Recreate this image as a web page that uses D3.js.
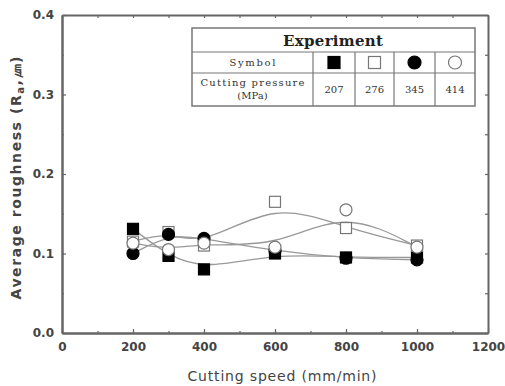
<!DOCTYPE html>
<html>
<head>
<meta charset="utf-8">
<script src="https://cdn.jsdelivr.net/npm/d3@7"></script>
<style>
  body { margin: 0; background: #fff; }
  svg { display: block; }
</style>
</head>
<body>
<svg id="chart" width="505" height="386"></svg>
<script>
// cutting speed (mm/min)
const speeds = [200, 300, 400, 600, 800, 1000];
// average roughness Ra per cutting pressure
const ra207 = [0.131, 0.097, 0.080, 0.100, 0.095, 0.095];
const ra276 = [0.115, 0.127, 0.110, 0.165, 0.132, 0.110];
const ra345 = [0.100, 0.124, 0.119, 0.103, 0.094, 0.092];
const ra414 = [0.113, 0.105, 0.113, 0.108, 0.155, 0.108];
const pressures = ['207', '276', '345', '414'];
const xTicks = [0, 200, 400, 600, 800, 1000, 1200];
const yTicks = [0.0, 0.1, 0.2, 0.3, 0.4];

const series = [
  { p: pressures[0], vals: ra207, shape: 'square', fill: '#000' },
  { p: pressures[1], vals: ra276, shape: 'square', fill: '#fff' },
  { p: pressures[2], vals: ra345, shape: 'circle', fill: '#000' },
  { p: pressures[3], vals: ra414, shape: 'circle', fill: '#fff' }
];

const margin = {top: 15, right: 17, bottom: 53, left: 62};
const W = 505, H = 386;
const iw = W - margin.left - margin.right;
const ih = H - margin.top - margin.bottom;

const svg = d3.select('#chart');
const g = svg.append('g').attr('transform', `translate(${margin.left},${margin.top})`);

const x = d3.scaleLinear().domain([0, 1200]).range([0, iw]);
const y = d3.scaleLinear().domain([0, 0.4]).range([ih, 0]);

const axisCol = '#666';
const txtCol = '#444';
const sans = 'DejaVu Sans, Verdana, sans-serif';
const serif = 'DejaVu Serif, Liberation Serif, serif';

// smoothed trend lines
const line = d3.line()
  .x((d, i) => x(speeds[i]))
  .y(d => y(d))
  .curve(d3.curveBasis);

series.forEach(s => {
  g.append('path')
    .datum(s.vals)
    .attr('d', line)
    .attr('fill', 'none')
    .attr('stroke', '#999')
    .attr('stroke-width', 1.3);
});

// markers
function drawMarker(sel, shape, fill, cx, cy, size) {
  const stroke = fill === '#000' ? '#000' : '#777';
  if (shape === 'square') {
    sel.append('rect')
      .attr('x', cx - size / 2).attr('y', cy - size / 2)
      .attr('width', size).attr('height', size)
      .attr('fill', fill).attr('stroke', stroke)
      .attr('stroke-width', 1.2);
  } else {
    sel.append('circle')
      .attr('cx', cx).attr('cy', cy).attr('r', size / 2 + 0.5)
      .attr('fill', fill).attr('stroke', stroke)
      .attr('stroke-width', 1.2);
  }
}

series.forEach(s => {
  s.vals.forEach((v, i) => drawMarker(g, s.shape, s.fill, x(speeds[i]), y(v), 11));
});

// axes: ticks inside on all four sides
const xMinor = d3.range(0, 1201, 100);
const yMinor = d3.range(0, 0.4001, 0.05);

const axB = g.append('g').attr('transform', `translate(0,${ih})`)
  .call(d3.axisBottom(x).tickValues(xTicks).tickFormat(d3.format('d')).tickSizeInner(-4).tickSizeOuter(0).tickPadding(9));
const axBm = g.append('g').attr('transform', `translate(0,${ih})`)
  .call(d3.axisBottom(x).tickValues(xMinor).tickFormat('').tickSizeInner(-2).tickSizeOuter(0));
const axT = g.append('g')
  .call(d3.axisTop(x).tickValues(xMinor).tickFormat('').tickSizeInner(-3).tickSizeOuter(0));
const axL = g.append('g')
  .call(d3.axisLeft(y).tickValues(yTicks).tickFormat(d3.format('.1f')).tickSizeInner(-4).tickSizeOuter(0).tickPadding(8));
const axLm = g.append('g')
  .call(d3.axisLeft(y).tickValues(yMinor).tickFormat('').tickSizeInner(-2).tickSizeOuter(0));
const axR = g.append('g').attr('transform', `translate(${iw},0)`)
  .call(d3.axisRight(y).tickValues(yMinor).tickFormat('').tickSizeInner(-3).tickSizeOuter(0));

[axB, axBm, axT, axL, axLm, axR].forEach(a => {
  a.select('.domain').attr('stroke', axisCol).attr('stroke-width', 2);
  a.selectAll('.tick line').attr('stroke', axisCol).attr('stroke-width', 1.2);
  a.selectAll('.tick text')
    .attr('fill', txtCol)
    .attr('font-family', sans)
    .attr('font-size', 12)
    .attr('font-weight', 'bold');
});

// axis titles
svg.append('text')
  .attr('x', 282).attr('y', 381)
  .attr('text-anchor', 'middle')
  .attr('font-family', sans)
  .attr('font-size', 14).attr('fill', txtCol)
  .attr('textLength', 189).attr('lengthAdjust', 'spacing')
  .text('Cutting speed (mm/min)');

const yl = svg.append('text')
  .attr('transform', `translate(21,178) rotate(-90)`)
  .attr('text-anchor', 'middle')
  .attr('font-family', sans).attr('font-weight', 'bold')
  .attr('font-size', 14).attr('fill', txtCol)
  .attr('textLength', 243).attr('lengthAdjust', 'spacing');
yl.append('tspan').text('Average roughness (R');
yl.append('tspan').attr('font-size', 10).attr('dy', 3).text('a');
yl.append('tspan').attr('dy', -3).text(',㎛)');

// legend table
const tb = { x0: 192, y0: 28, x1: 475, y1: 106 };
const rowY = [tb.y0, 52, 73, tb.y1];
const colX = [tb.x0, 313, 355, 394, 435, tb.x1];
const tg = svg.append('g');
const tblStroke = '#777';

tg.append('rect')
  .attr('x', tb.x0).attr('y', tb.y0)
  .attr('width', tb.x1 - tb.x0).attr('height', tb.y1 - tb.y0)
  .attr('fill', '#fff').attr('stroke', tblStroke).attr('stroke-width', 1.5);
[rowY[1], rowY[2]].forEach(yy => {
  tg.append('line').attr('x1', tb.x0).attr('x2', tb.x1).attr('y1', yy).attr('y2', yy)
    .attr('stroke', tblStroke).attr('stroke-width', 1.2);
});
colX.slice(1, -1).forEach(xx => {
  tg.append('line').attr('x1', xx).attr('x2', xx).attr('y1', rowY[1]).attr('y2', tb.y1)
    .attr('stroke', tblStroke).attr('stroke-width', 1.2);
});

const c0 = (colX[0] + colX[1]) / 2;
tg.append('text')
  .attr('x', 333).attr('y', 46)
  .attr('text-anchor', 'middle')
  .attr('font-family', serif).attr('font-weight', 'bold')
  .attr('font-size', 15).attr('fill', '#222')
  .attr('textLength', 100).attr('lengthAdjust', 'spacing')
  .text('Experiment');
tg.append('text')
  .attr('x', c0).attr('y', 66)
  .attr('text-anchor', 'middle')
  .attr('font-family', serif).attr('font-size', 10).attr('fill', '#333')
  .attr('textLength', 46).attr('lengthAdjust', 'spacing')
  .text('Symbol');
tg.append('text')
  .attr('x', c0).attr('y', 86)
  .attr('text-anchor', 'middle')
  .attr('font-family', serif).attr('font-size', 10).attr('fill', '#333')
  .attr('textLength', 104).attr('lengthAdjust', 'spacing')
  .text('Cutting pressure');
tg.append('text')
  .attr('x', c0).attr('y', 99)
  .attr('text-anchor', 'middle')
  .attr('font-family', serif).attr('font-size', 10).attr('fill', '#333')
  .text('(MPa)');

series.forEach((s, i) => {
  const cx = (colX[i + 1] + colX[i + 2]) / 2;
  drawMarker(tg, s.shape, s.fill, cx, (rowY[1] + rowY[2]) / 2, 12);
  tg.append('text')
    .attr('x', cx).attr('y', 93)
    .attr('text-anchor', 'middle')
    .attr('font-family', serif).attr('font-size', 10).attr('fill', '#333')
    .text(s.p);
});
</script>
</body>
</html>
